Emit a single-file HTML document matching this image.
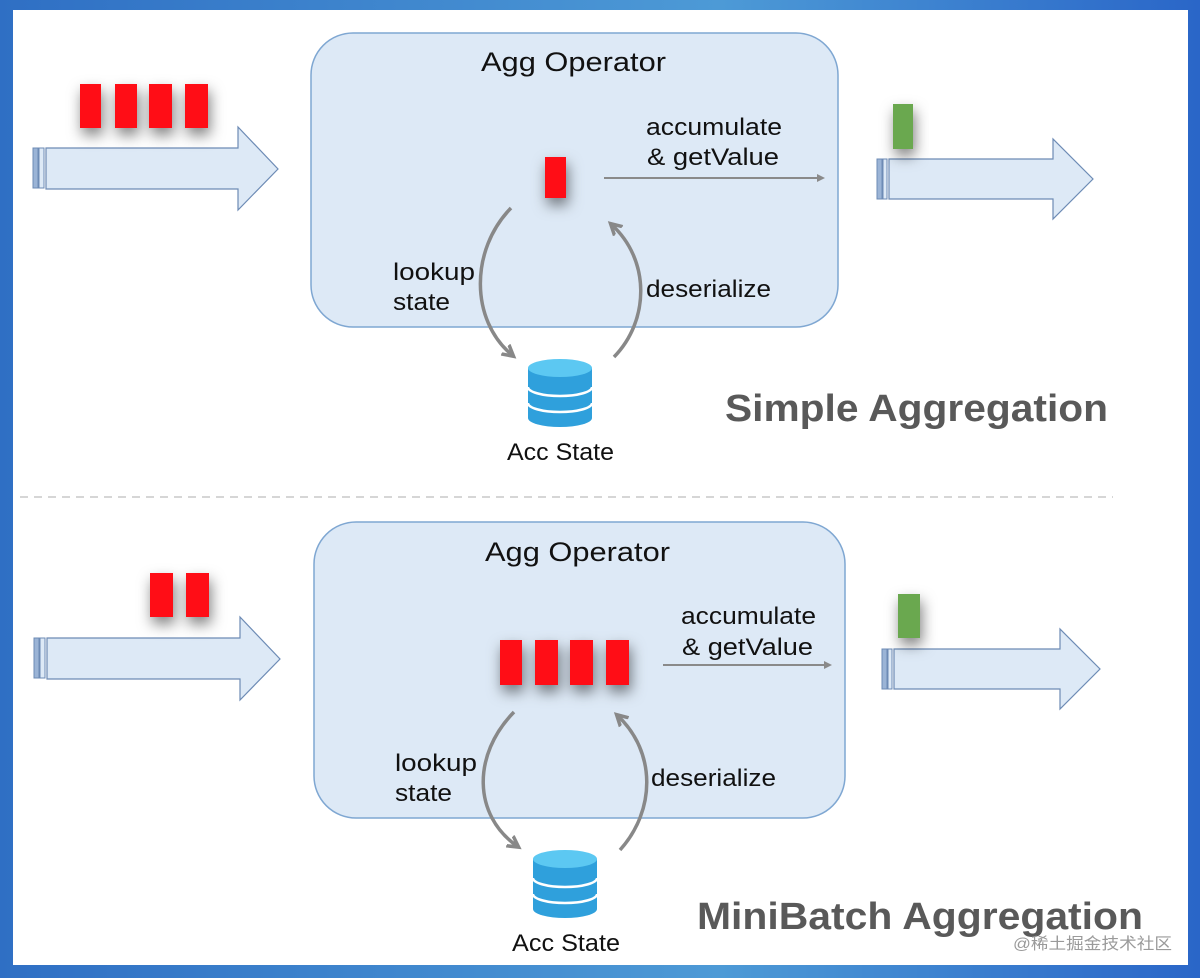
<!DOCTYPE html>
<html><head><meta charset="utf-8"><style>
html,body{margin:0;padding:0;width:1200px;height:978px;overflow:hidden}
svg{display:block}
text{font-family:"Liberation Sans","Noto Sans CJK SC",sans-serif;fill:#111}
</style></head><body>
<svg width="1200" height="978" viewBox="0 0 1200 978" xmlns="http://www.w3.org/2000/svg">
<defs>
<linearGradient id="bg" x1="0" y1="0" x2="1" y2="0">
<stop offset="0" stop-color="#2f6fc4"/><stop offset="0.6" stop-color="#4d9ad6"/><stop offset="1" stop-color="#2a66c8"/>
</linearGradient>
<filter id="sh" x="-80%" y="-50%" width="260%" height="220%"><feDropShadow dx="2" dy="7" stdDeviation="7" flood-color="#000" flood-opacity="0.5"/></filter>
<marker id="ah" markerWidth="8" markerHeight="8" refX="6" refY="4" orient="auto" markerUnits="userSpaceOnUse"><path d="M0,0 L8,4 L0,8 z" fill="#8a8a8a"/></marker>
<marker id="ah2" markerWidth="16" markerHeight="16" refX="9" refY="8" orient="auto" markerUnits="userSpaceOnUse"><path d="M0,2 L11,8 L0,14" fill="none" stroke="#888" stroke-width="3.5"/></marker>
<g id="db">
<path d="M0,8 v50 a32,9 0 0 0 64,0 v-50" fill="#2fa0dc"/>
<ellipse cx="32" cy="8" rx="32" ry="9" fill="#5cc8f2"/>
<path d="M0,27 a32,9 0 0 0 64,0" fill="none" stroke="#fff" stroke-width="2.5"/>
<path d="M0,43 a32,9 0 0 0 64,0" fill="none" stroke="#fff" stroke-width="2.5"/>
</g>
</defs>
<rect width="1200" height="978" fill="url(#bg)"/>
<rect x="13" y="10" width="1175" height="955" fill="#fff"/>

<!-- TOP -->
<rect x="311" y="33" width="527" height="294" rx="42" fill="#dde9f6" stroke="#7fa7d2" stroke-width="1.5"/>
<text x="481" y="71" font-size="27" textLength="185" lengthAdjust="spacingAndGlyphs">Agg Operator</text>
<rect x="33" y="148" width="5" height="40" fill="#9bb4d6" stroke="#6d8bb5"/>
<rect x="39" y="148" width="5" height="40" fill="#dde9f6" stroke="#6d8bb5"/>
<path d="M46,148 H238 V127 L278,169 L238,210 V189 H46 Z" fill="#dde9f6" stroke="#6d8bb5" stroke-width="1.2"/>
<g fill="#ff0a17" filter="url(#sh)">
<rect x="80" y="84" width="21" height="44"/><rect x="115" y="84" width="22" height="44"/><rect x="149" y="84" width="23" height="44"/><rect x="185" y="84" width="23" height="44"/>
<rect x="545" y="157" width="21" height="41"/>
</g>
<line x1="604" y1="178" x2="823" y2="178" stroke="#8a8a8a" stroke-width="2" marker-end="url(#ah)"/>
<text x="646" y="135" font-size="24" textLength="136" lengthAdjust="spacingAndGlyphs">accumulate</text>
<text x="647" y="165" font-size="24" textLength="132" lengthAdjust="spacingAndGlyphs">&amp; getValue</text>
<rect x="877" y="159" width="5" height="40" fill="#9bb4d6" stroke="#6d8bb5"/>
<rect x="883" y="159" width="4" height="40" fill="#dde9f6" stroke="#6d8bb5"/>
<path d="M889,159 H1053 V139 L1093,179 L1053,219 V199 H889 Z" fill="#dde9f6" stroke="#6d8bb5" stroke-width="1.2"/>
<rect x="893" y="104" width="20" height="45" fill="#6aa84f" filter="url(#sh)"/>
<path d="M511,208 C470,250 470,320 512,355" fill="none" stroke="#888" stroke-width="3.5" marker-end="url(#ah2)"/>
<path d="M614,357 C650,320 650,260 612,225" fill="none" stroke="#888" stroke-width="3.5" marker-end="url(#ah2)"/>
<text x="393" y="280" font-size="24" textLength="82" lengthAdjust="spacingAndGlyphs">lookup</text>
<text x="393" y="310" font-size="24" textLength="57" lengthAdjust="spacingAndGlyphs">state</text>
<text x="646" y="297" font-size="24" textLength="125" lengthAdjust="spacingAndGlyphs">deserialize</text>
<use href="#db" x="528" y="360"/>
<text x="507" y="460" font-size="24" textLength="107" lengthAdjust="spacingAndGlyphs">Acc State</text>
<text x="725" y="421" font-size="38" font-weight="bold" style="fill:#595959" textLength="383" lengthAdjust="spacingAndGlyphs">Simple Aggregation</text>

<line x1="20" y1="497" x2="1113" y2="497" stroke="#c8c8c8" stroke-width="1.5" stroke-dasharray="8,6"/>

<!-- BOTTOM -->
<rect x="314" y="522" width="531" height="296" rx="42" fill="#dde9f6" stroke="#7fa7d2" stroke-width="1.5"/>
<text x="485" y="561" font-size="27" textLength="185" lengthAdjust="spacingAndGlyphs">Agg Operator</text>
<rect x="34" y="638" width="5" height="40" fill="#9bb4d6" stroke="#6d8bb5"/>
<rect x="40" y="638" width="5" height="40" fill="#dde9f6" stroke="#6d8bb5"/>
<path d="M47,638 H240 V617 L280,659 L240,700 V679 H47 Z" fill="#dde9f6" stroke="#6d8bb5" stroke-width="1.2"/>
<g fill="#ff0a17" filter="url(#sh)">
<rect x="150" y="573" width="23" height="44"/><rect x="186" y="573" width="23" height="44"/>
<rect x="500" y="640" width="22" height="45"/><rect x="535" y="640" width="23" height="45"/><rect x="570" y="640" width="23" height="45"/><rect x="606" y="640" width="23" height="45"/>
</g>
<line x1="663" y1="665" x2="830" y2="665" stroke="#8a8a8a" stroke-width="2" marker-end="url(#ah)"/>
<text x="681" y="624" font-size="24" textLength="135" lengthAdjust="spacingAndGlyphs">accumulate</text>
<text x="682" y="655" font-size="24" textLength="131" lengthAdjust="spacingAndGlyphs">&amp; getValue</text>
<rect x="882" y="649" width="5" height="40" fill="#9bb4d6" stroke="#6d8bb5"/>
<rect x="888" y="649" width="4" height="40" fill="#dde9f6" stroke="#6d8bb5"/>
<path d="M894,649 H1060 V629 L1100,669 L1060,709 V689 H894 Z" fill="#dde9f6" stroke="#6d8bb5" stroke-width="1.2"/>
<rect x="898" y="594" width="22" height="44" fill="#6aa84f" filter="url(#sh)"/>
<path d="M514,712 C472,755 473,815 517,846" fill="none" stroke="#888" stroke-width="3.5" marker-end="url(#ah2)"/>
<path d="M620,850 C656,810 656,752 618,716" fill="none" stroke="#888" stroke-width="3.5" marker-end="url(#ah2)"/>
<text x="395" y="771" font-size="24" textLength="82" lengthAdjust="spacingAndGlyphs">lookup</text>
<text x="395" y="801" font-size="24" textLength="57" lengthAdjust="spacingAndGlyphs">state</text>
<text x="651" y="786" font-size="24" textLength="125" lengthAdjust="spacingAndGlyphs">deserialize</text>
<use href="#db" x="533" y="851"/>
<text x="512" y="951" font-size="24" textLength="108" lengthAdjust="spacingAndGlyphs">Acc State</text>
<text x="697" y="929" font-size="38" font-weight="bold" style="fill:#595959" textLength="446" lengthAdjust="spacingAndGlyphs">MiniBatch Aggregation</text>
<text x="1013" y="949" font-size="16" style="fill:#9a9a9a" textLength="159" lengthAdjust="spacingAndGlyphs">@稀土掘金技术社区</text>
</svg>
</body></html>
